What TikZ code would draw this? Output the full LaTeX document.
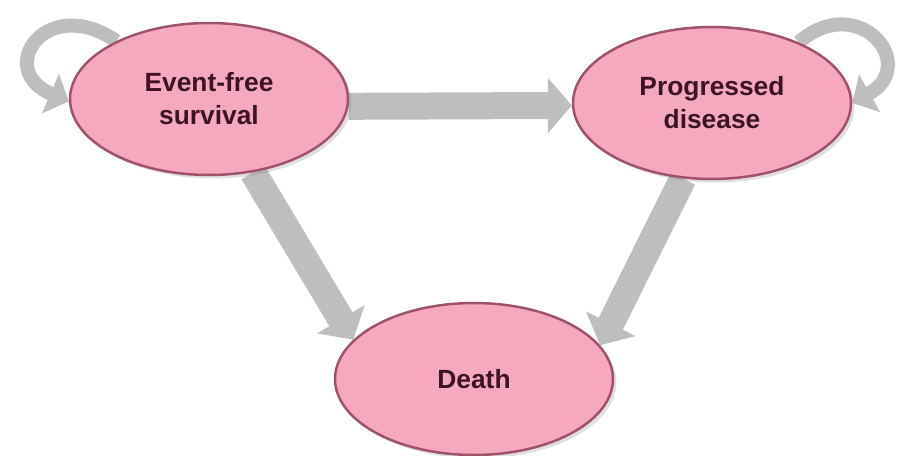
\documentclass[tikz,border=0pt]{standalone}
\usepackage{fontspec}
\setmainfont{Liberation Sans}
\usepackage{tikz}
\usetikzlibrary{
    shapes.geometric,
    arrows.meta,
    shadows,
    backgrounds
}
\definecolor{statepink}{RGB}{245,168,190}
\definecolor{staterim}{RGB}{160,82,108}
\definecolor{statetext}{RGB}{60,20,38}
\definecolor{flowgray}{RGB}{190,190,190}
\tikzstyle{flow} = [draw=flowgray,line width=0.54cm,
    -{Triangle[width=1.08cm,length=0.48cm]}]
\tikzstyle{selfloop} = [draw=flowgray,line width=0.28cm,
    -{Triangle[width=0.84cm,length=0.4cm]}]

\begin{document}
\begin{tikzpicture}[
        x=0.02cm,
        y=-0.02cm,
        line join=round,
        state/.style={
            ellipse,
            inner sep=0pt,
            minimum width=5.56cm,
            minimum height=3.04cm,
            fill=statepink,
            draw=staterim,
            line width=1.4pt,
            drop shadow={opacity=0.25,shadow xshift=2pt,shadow yshift=-2pt},
            text=statetext,
            align=center,
            font=\bfseries\fontsize{15}{18.7}\selectfont
        }
    ]

        % frame of the picture
        \useasboundingbox (0,0) rectangle (897,456);

        % the three states
        \node[state] (efs)   at (209,99)  {Event-free\\survival};
        \node[state] (pd)    at (712,103) {Progressed\\disease};
        \node[state] (death) at (474,379) {Death};

        % transitions, behind the states
        \begin{scope}[on background layer]
            \draw[flow] (efs.-3) -- (pd.181);
            \draw[flow] (efs.-59) -- (death.162);
            \draw[flow] (pd.-111) -- (death.15);

            % staying in a state
            \draw[selfloop] (efs.148)
                .. controls +(-70,-48) and +(-75,-32) .. (efs.181);
            \draw[selfloop] (pd.35)
                .. controls +(60,-52) and +(68,-38) .. (pd.0);
        \end{scope}

    \end{tikzpicture}
\end{document}
